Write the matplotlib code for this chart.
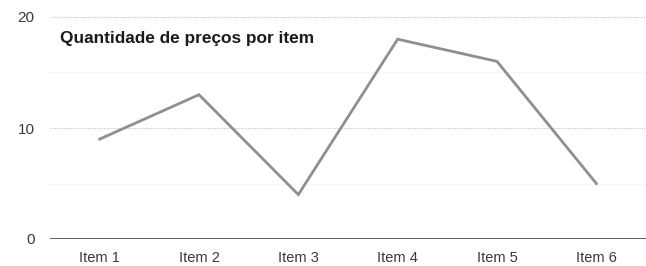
import matplotlib
matplotlib.use("Agg")
import matplotlib.pyplot as plt

categories = ["Item 1", "Item 2", "Item 3", "Item 4", "Item 5", "Item 6"]
values = [9, 13, 4, 18, 16, 5]
title = "Quantidade de preços por item"

plt.rcParams['font.family'] = ['Liberation Sans', 'DejaVu Sans']

fig = plt.figure(figsize=(6.46, 2.66), dpi=100)
ax = fig.add_axes([50/646, 1-239/266, 596/646, (239-17)/266])

x = list(range(len(categories)))
ax.plot(x, values, color="#8f8f8f", lw=2.0, solid_joinstyle="miter", zorder=3)

ax.set_xlim(-0.5, len(categories)-0.5)
ax.set_ylim(0, 20)
ax.set_yticks([0, 10, 20])
for y, c, lw in [(20, "#c8c8c8", 0.8), (15, "#ececec", 0.8), (10, "#c8c8c8", 0.8), (5, "#ececec", 0.8)]:
    ax.axhline(y, color=c, lw=lw, ls=(0, (1, 1)), zorder=1)
ax.axhline(0, color="#444444", lw=1.2, zorder=2)

ax.set_xticks(x)
ax.set_xticklabels(categories)
for s in ax.spines.values():
    s.set_visible(False)
ax.tick_params(axis="both", length=0, colors="#3a3a3a")
ax.tick_params(axis="x", pad=9, labelsize=10.5)
ax.tick_params(axis="y", pad=11, labelsize=11)

ax.text(60/646, 1-39/266, title, transform=fig.transFigure, fontsize=12.4,
        fontweight="bold", color="#1a1a1a", va="center", ha="left")

fig.savefig("out.png", dpi=100)
